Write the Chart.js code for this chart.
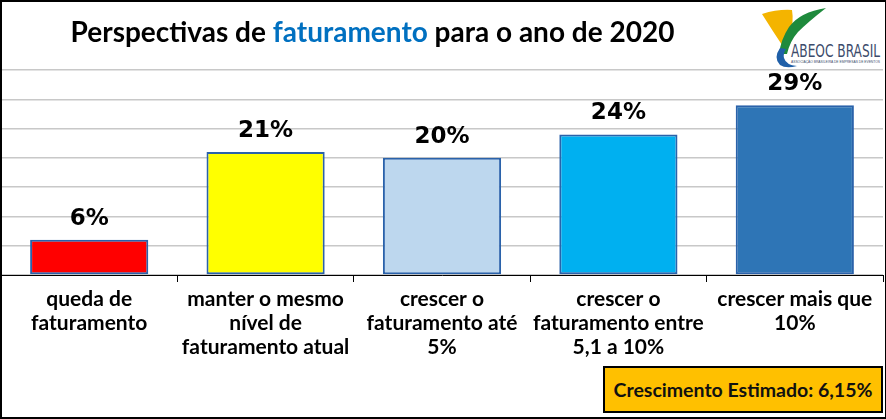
<!DOCTYPE html>
<html>
<head>
<meta charset="utf-8">
<script src="https://cdn.jsdelivr.net/npm/chart.js@4.4.1/dist/chart.umd.min.js"></script>
<style>
  html, body { margin: 0; padding: 0; background: #fff; }
  #wrap { position: relative; width: 886px; height: 419px; overflow: hidden; }
  #titulo {
    position: absolute; left: 20px; top: 14px; width: 705px; text-align: center;
    font: bold 28px Lato, sans-serif; color: #000;
  }
  #titulo span { color: #0070C0; }
  #logo { position: absolute; left: 750px; top: 0px; }
  #caixa {
    position: absolute; left: 603px; top: 366px; width: 280px; height: 47px;
    box-sizing: border-box; background: #FFC000; border: 2px solid #000;
    font: bold 19.5px Lato, sans-serif; line-height: 43px; text-align: center; color: #111;
  }
  #moldura {
    position: absolute; left: 0; top: 0; width: 886px; height: 419px;
    box-sizing: border-box; border: 2px solid #000; border-right-width: 1px; pointer-events: none;
  }
</style>
</head>
<body>
<div id="wrap">
  <canvas id="grafico" width="886" height="419"></canvas>
  <div id="titulo">Perspectivas de <span>faturamento</span> para o ano de 2020</div>
  <svg id="logo" width="136" height="72" viewBox="0 0 136 72">
    <rect x="0" y="0" width="136" height="67" fill="#fff"/>
    <path d="M12 14 Q28 9 42 10 Q44 22 40 34 Q36 40 34 48 Q22 30 12 14 Z" fill="#F4B400"/>
    <path d="M76 8 Q50 12 39 27 Q31 39 29 54 L37 54 Q40 41 48 32 Q58 22 76 8 Z" fill="#1E8A3C"/>
    <path d="M30 48 Q23 58 30 65 Q36 69 47 66 Q36 65 34 58 Q33 53 36 49 Z" fill="#1F5FA8"/>
    <text x="41" y="57" font-family="'Liberation Sans Narrow', 'DejaVu Sans Condensed', sans-serif" font-size="17" fill="#3C4B6B" textLength="89" lengthAdjust="spacingAndGlyphs">ABEOC BRASIL</text>
    <text x="41" y="63" font-family="sans-serif" font-size="4" fill="#3C4B6B" textLength="89" lengthAdjust="spacingAndGlyphs">ASSOCIAÇÃO BRASILEIRA DE EMPRESAS DE EVENTOS</text>
  </svg>
  <div id="caixa">Crescimento Estimado: 6,15%</div>
  <div id="moldura"></div>
</div>
<script>
const categorias = [
  ["queda de", "faturamento"],
  ["manter o mesmo", "nível de", "faturamento atual"],
  ["crescer o", "faturamento até", "5%"],
  ["crescer o", "faturamento entre", "5,1 a 10%"],
  ["crescer mais que", "10%"]
];
const valores = [6, 21, 20, 24, 29];
const rotulos = ["6%", "21%", "20%", "24%", "29%"];
const cores = ["#FF0000", "#FFFF00", "#BDD7EE", "#00B0F0", "#2E75B6"];

// rótulos em cima das barras
const rotulosBarras = {
  id: 'rotulosBarras',
  afterDatasetsDraw(chart) {
    const ctx = chart.ctx;
    const meta = chart.getDatasetMeta(0);
    ctx.save();
    ctx.font = 'bold 23px "DejaVu Sans", sans-serif';
    ctx.fillStyle = '#000';
    ctx.textAlign = 'center';
    ctx.textBaseline = 'middle';
    meta.data.forEach((barra, i) => {
      ctx.fillText(rotulos[i], barra.x, barra.y - 21);
    });
    ctx.restore();
  }
};

const ctx = document.getElementById('grafico').getContext('2d');
new Chart(ctx, {
  type: 'bar',
  data: {
    labels: categorias,
    datasets: [{
      data: valores,
      backgroundColor: cores,
      borderColor: '#2A62AA',
      borderWidth: 2,
      borderSkipped: false,
      categoryPercentage: 1,
      barPercentage: 0.67
    }]
  },
  options: {
    responsive: false,
    animation: false,
    layout: { padding: { top: 70, left: 1, right: 3, bottom: 0 } },
    plugins: { legend: { display: false }, tooltip: { enabled: false } },
    scales: {
      x: {
        afterFit: s => { s.height = 144; },
        grid: { drawOnChartArea: false, drawTicks: true, tickLength: 7, color: '#000', offset: true },
        border: { display: true, color: '#000', width: 1 },
        ticks: {
          color: '#000',
          padding: 5,
          maxRotation: 0,
          autoSkip: false,
          font: { family: 'Lato', weight: 'bold', size: 21, lineHeight: 1.14 }
        }
      },
      y: {
        min: 0,
        max: 35,
        afterFit: s => { s.width = 0; },
        ticks: { display: false, stepSize: 5 },
        grid: { color: '#C8C8C8', drawTicks: false, lineWidth: 1.5 },
        border: { display: false }
      }
    }
  },
  plugins: [rotulosBarras]
});
</script>
</body>
</html>
